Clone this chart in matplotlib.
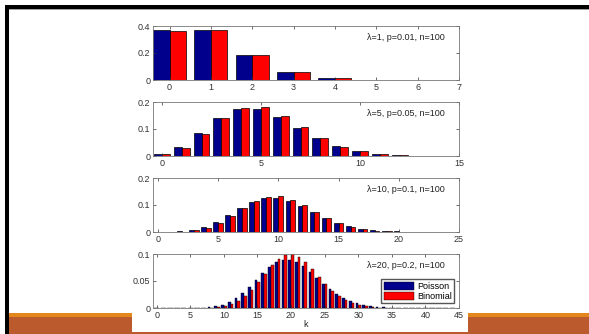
import matplotlib.pyplot as plt
from matplotlib.patches import Rectangle

# values (k = 0, 1, 2, ...)
poisson_1 = [0.368, 0.368, 0.184, 0.061, 0.015, 0.003, 0.0005, 0.0001]
binom_1 = [0.366, 0.370, 0.185, 0.061, 0.015, 0.003, 0.0005, 0.0001]

poisson_5 = [0.0067, 0.0337, 0.0842, 0.1404, 0.1755, 0.1755, 0.1462, 0.1044,
             0.0653, 0.0363, 0.0181, 0.0082, 0.0034, 0.0013, 0.0005]
binom_5 = [0.0059, 0.0312, 0.0812, 0.1396, 0.1781, 0.1800, 0.1500, 0.1060,
           0.0649, 0.0349, 0.0167, 0.0072, 0.0028, 0.0010, 0.0003]

poisson_10 = [0.00005, 0.0005, 0.0023, 0.0076, 0.0189, 0.0378, 0.0631, 0.0901,
              0.1126, 0.1251, 0.1251, 0.1137, 0.0948, 0.0729, 0.0521, 0.0347,
              0.0217, 0.0128, 0.0071, 0.0037, 0.0019, 0.0009, 0.0004, 0.0002,
              0.0001]
binom_10 = [0.00003, 0.0003, 0.0016, 0.0059, 0.0159, 0.0339, 0.0596, 0.0889,
            0.1148, 0.1304, 0.1319, 0.1199, 0.0988, 0.0743, 0.0513, 0.0327,
            0.0193, 0.0106, 0.0054, 0.0026, 0.0012, 0.0005, 0.0002, 0.0001,
            0.0000]

poisson_20 = [0.0, 0.0, 0.0, 0.0, 0.00001, 0.00005, 0.00018, 0.00052, 0.00131,
              0.00291, 0.00582, 0.01058, 0.01763, 0.02712, 0.03874, 0.05165,
              0.06456, 0.07595, 0.08439, 0.08884, 0.08884, 0.08461, 0.07691,
              0.06688, 0.05573, 0.04459, 0.03430, 0.02541, 0.01815, 0.01252,
              0.00834, 0.00538, 0.00336, 0.00204, 0.00120, 0.00069, 0.00038,
              0.00021, 0.00011, 0.00006, 0.00003, 0.00001, 0.0, 0.0, 0.0]
binom_20 = [0.0, 0.0, 0.0, 0.0, 0.0, 0.00001, 0.00006, 0.00020, 0.00058,
            0.00148, 0.00336, 0.00688, 0.01275, 0.02158, 0.03353, 0.04806,
            0.06383, 0.07885, 0.09090, 0.09808, 0.09930, 0.09457, 0.08490,
            0.07198, 0.05773, 0.04388, 0.03164, 0.02168, 0.01413, 0.00877,
            0.00519, 0.00293, 0.00158, 0.00081, 0.00040, 0.00019, 0.00009,
            0.00004, 0.00002, 0.00001, 0.0, 0.0, 0.0, 0.0, 0.0]

labels = ['\u03bb=1, p=0.01, n=100', '\u03bb=5, p=0.05, n=100',
          '\u03bb=10, p=0.1, n=100', '\u03bb=20, p=0.2, n=100']
xlims = [(-0.4, 7), (-0.45, 15), (-0.4, 25), (-0.55, 45)]
ylims = [0.4, 0.2, 0.2, 0.1]
xticks = [range(0, 8), range(0, 16, 5), range(0, 26, 5), range(0, 46, 5)]
yticks = [[0, 0.2, 0.4], [0, 0.1, 0.2], [0, 0.1, 0.2], [0, 0.05, 0.1]]
ytick_labels = [['0', '0.2', '0.4'], ['0', '0.1', '0.2'],
                ['0', '0.1', '0.2'], ['0', '0.05', '0.1']]
series = [(poisson_1, binom_1), (poisson_5, binom_5),
          (poisson_10, binom_10), (poisson_20, binom_20)]

plt.rcParams['font.family'] = ['Liberation Sans', 'DejaVu Sans']

W, H = 589, 334
fig = plt.figure(figsize=(W / 100, H / 100), dpi=100)


def px_rect(x0, y0, x1, y1, color, z):
    # rectangle given in pixel coords from the top-left corner
    fig.patches.append(Rectangle((x0 / W, 1 - y1 / H), (x1 - x0) / W, (y1 - y0) / H,
                                 transform=fig.transFigure, color=color, zorder=z, lw=0))


# slide decoration
px_rect(5, 5, W, 9, 'black', 1)
px_rect(9, 9, W, 10, '#a0a0a0', 1)
px_rect(5, 5, 9, H, 'black', 1)
px_rect(9, 313, W, 317, '#e3861b', 1)
px_rect(9, 317, W, H, '#bb5a2d', 1)
px_rect(132, 15, 468, 332, 'white', 2)

navy = '#00008c'
red = '#ff0000'
tops = [26, 102, 178, 254]
height = 54
left, right = 153, 459
fs = 6.5

for i in range(4):
    top = tops[i]
    ax = fig.add_axes([left / W, 1 - (top + height) / H, (right - left) / W, height / H])
    ax.set_zorder(3)
    pois, binom = series[i]
    k = list(range(len(pois)))
    lw = 0.5 if i < 3 else 0.3
    ax.bar([x - 0.2 for x in k], pois, width=0.4, color=navy, edgecolor='black',
           linewidth=lw, label='Poisson')
    ax.bar([x + 0.2 for x in k], binom, width=0.4, color=red, edgecolor='black',
           linewidth=lw, label='Binomial')
    ax.set_xlim(*xlims[i])
    ax.set_ylim(0, ylims[i])
    ax.set_xticks(list(xticks[i]))
    ax.set_yticks(yticks[i])
    ax.set_yticklabels(ytick_labels[i])
    ax.tick_params(direction='in', length=2.5, width=0.5, top=True, right=True,
                   labelsize=fs, pad=2, colors='#333333')
    for s in ax.spines.values():
        s.set_linewidth(0.6)
        s.set_color('#777777')
    ax.text(0.955, 0.78, labels[i], transform=ax.transAxes, ha='right', va='center',
            fontsize=fs, color='#222222')
    if i == 3:
        ax.set_xlabel('k', fontsize=fs, labelpad=0, color='#222222')
        ax.legend(loc='lower right', bbox_to_anchor=(0.984, 0.093), borderaxespad=0,
                  fontsize=fs, handlelength=3.4, handleheight=1.0, labelspacing=0.1,
                  handletextpad=0.3, borderpad=0.25, fancybox=False, framealpha=1,
                  edgecolor='#555555')

fig.savefig('out.png', dpi=100)
